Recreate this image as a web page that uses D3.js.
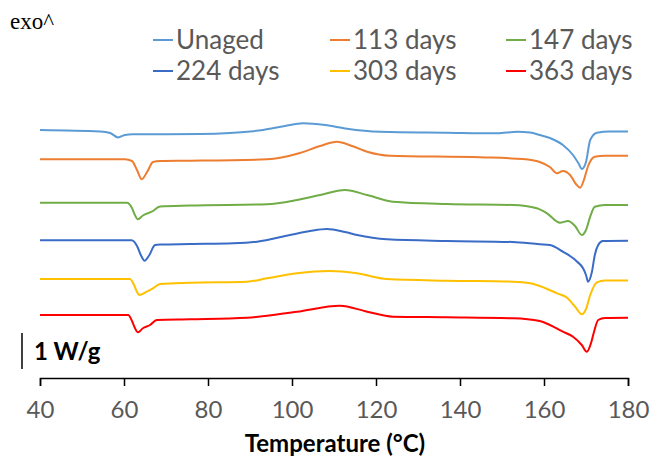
<!DOCTYPE html>
<html>
<head>
<meta charset="utf-8">
<script src="https://cdn.jsdelivr.net/npm/d3@7"></script>
<style>
  body { margin: 0; background: #fff; }
  svg { display: block; }
</style>
</head>
<body>
<svg id="chart" width="651" height="459"></svg>
<script>
// DSC curves, temperature (°C) vs heat flow (W/g, shifted for stacking)
const seriesNames = ["Unaged", "113 days", "147 days", "224 days", "303 days", "363 days"];
const seriesColors = ["#5B9BD5", "#ED7D31", "#70AD47", "#3A6CC6", "#FFC000", "#FF0000"];
const xTicks = [40, 60, 80, 100, 120, 140, 160, 180];

const unaged = [
  [40, 6.889], [54.3, 6.847], [56.7, 6.806], [58.6, 6.681], [60.2, 6.75], [62.1, 6.769],
  [78.1, 6.778], [85.2, 6.806], [93.1, 6.889], [98.3, 7.0], [102.6, 7.075], [107.9, 7.028],
  [113.1, 6.925], [121.0, 6.842], [136.9, 6.814], [148.8, 6.797], [153.6, 6.842], [156.7, 6.819],
  [159.0, 6.75], [161.4, 6.667], [164.5, 6.472], [166.9, 6.194], [168.3, 5.944], [169.0, 5.806],
  [170.0, 6.0], [171.0, 6.611], [172.6, 6.814], [175.7, 6.847], [180, 6.847]
];
const days113 = [
  [40, 6.075], [60.2, 6.075], [61.9, 6.028], [63.1, 5.778], [64.2, 5.519], [65.5, 5.722],
  [66.9, 6.0], [68.6, 6.028], [75.7, 6.036], [94.0, 6.075], [101.9, 6.25], [106.7, 6.444],
  [110.7, 6.564], [114.3, 6.444], [117.9, 6.286], [123.3, 6.175], [144.8, 6.131], [155.0, 6.083],
  [159.0, 6.0], [161.4, 5.861], [163.1, 5.686], [164.5, 5.75], [166.2, 5.639], [167.6, 5.389],
  [168.6, 5.286], [169.5, 5.5], [170.5, 5.889], [172.1, 6.147], [174.5, 6.175], [180, 6.175]
];
const days147 = [
  [40, 4.869], [60.7, 4.869], [61.9, 4.722], [62.6, 4.528], [63.3, 4.408], [64.5, 4.514],
  [66.6, 4.619], [68.6, 4.764], [75.7, 4.792], [94.0, 4.825], [101.2, 4.944], [106.7, 5.083],
  [112.6, 5.222], [117.9, 5.083], [124.0, 4.897], [136.9, 4.833], [152.6, 4.806], [158.3, 4.714],
  [160.7, 4.575], [163.8, 4.314], [165.7, 4.361], [167.4, 4.222], [169.0, 3.972], [170.0, 4.111],
  [171.0, 4.481], [172.1, 4.758], [174.5, 4.806], [180, 4.806]
];
const days224 = [
  [40, 3.825], [61.8, 3.825], [63.1, 3.667], [64.0, 3.417], [64.9, 3.258], [65.9, 3.389],
  [67.4, 3.694], [68.6, 3.708], [75.7, 3.722], [86.0, 3.741], [91.7, 3.786], [99.5, 3.972],
  [104.3, 4.083], [108.3, 4.139], [112.6, 4.056], [115.5, 3.972], [122.6, 3.853], [136.9, 3.806],
  [152.6, 3.778], [159.0, 3.714], [161.4, 3.694], [164.5, 3.508], [167.9, 3.231], [169.3, 3.047],
  [170.0, 2.861], [170.5, 2.675], [171.4, 2.944], [172.1, 3.417], [172.9, 3.694], [174.0, 3.806],
  [180, 3.814]
];
const days303 = [
  [40, 2.75], [61.4, 2.75], [62.4, 2.583], [63.1, 2.389], [63.6, 2.306], [65.4, 2.397],
  [66.9, 2.492], [68.6, 2.611], [75.7, 2.647], [89.3, 2.675], [94.0, 2.769], [101.2, 2.908],
  [109.0, 2.972], [115.5, 2.908], [122.6, 2.75], [136.9, 2.703], [152.6, 2.675], [156.7, 2.631],
  [160.2, 2.5], [163.1, 2.353], [165.5, 2.231], [167.4, 1.981], [169.0, 1.769], [170.0, 1.917],
  [171.0, 2.306], [172.6, 2.658], [174.5, 2.708], [180, 2.708]
];
const days363 = [
  [40, 1.75], [61.0, 1.75], [61.9, 1.583], [62.6, 1.389], [63.3, 1.269], [64.5, 1.381],
  [66.2, 1.472], [67.8, 1.611], [75.7, 1.631], [89.3, 1.675], [101.2, 1.842], [111.4, 2.008],
  [117.9, 1.842], [124.0, 1.703], [136.9, 1.686], [152.6, 1.658], [159.0, 1.583], [161.4, 1.472],
  [164.5, 1.286], [166.9, 1.147], [169.0, 0.917], [170.2, 0.731], [171.2, 0.972], [171.9, 1.278],
  [172.9, 1.611], [174.5, 1.667], [180, 1.675]
];
const allSeries = [unaged, days113, days147, days224, days303, days363];

const sans = "Lato, 'Open Sans', sans-serif";
const svg = d3.select("#chart");

const x = d3.scaleLinear().domain([40, 180]).range([40, 628]);
const y = d3.scaleLinear().domain([0, 7.5]).range([378, 108]);

const line = d3.line()
  .x(d => x(d[0]))
  .y(d => y(d[1]))
  .curve(d3.curveMonotoneX);

// curves
svg.append("g").selectAll("path")
  .data(allSeries)
  .enter()
  .append("path")
  .attr("d", line)
  .attr("fill", "none")
  .attr("stroke", (d, i) => seriesColors[i])
  .attr("stroke-width", 2)
  .attr("stroke-linejoin", "round");

// x axis
const xAxis = svg.append("g")
  .attr("transform", "translate(0,378)")
  .call(d3.axisBottom(x).tickValues(xTicks).tickSize(8).tickPadding(15));
xAxis.select(".domain").attr("stroke", "#000").attr("stroke-width", 1.5);
xAxis.selectAll(".tick line").attr("stroke", "#000").attr("stroke-width", 1.5);
xAxis.selectAll(".tick text")
  .attr("fill", "#595959")
  .style("font-family", sans)
  .style("font-size", "24px");

svg.append("text")
  .attr("x", 335)
  .attr("y", 452)
  .attr("text-anchor", "middle")
  .style("font-family", sans)
  .style("font-size", "24px")
  .style("font-weight", "bold")
  .attr("fill", "#000")
  .text("Temperature (°C)");

// scale bar
svg.append("line")
  .attr("x1", 22).attr("x2", 22)
  .attr("y1", y(1.25)).attr("y2", y(0.25))
  .attr("stroke", "#000")
  .attr("stroke-width", 1.5);
svg.append("text")
  .attr("x", 34)
  .attr("y", 360)
  .style("font-family", sans)
  .style("font-size", "24px")
  .style("font-weight", "bold")
  .attr("fill", "#000")
  .text("1 W/g");

// exo marker
svg.append("text")
  .attr("x", 10)
  .attr("y", 29)
  .style("font-family", "'Liberation Serif', 'Times New Roman', serif")
  .style("font-size", "23px")
  .attr("fill", "#000")
  .text("exo^");

// legend
const legendCols = [153, 330, 506];
const legendRows = [40, 71];
const legend = svg.append("g").selectAll("g")
  .data(seriesNames)
  .enter()
  .append("g")
  .attr("transform", (d, i) => `translate(${legendCols[i % 3]},${legendRows[Math.floor(i / 3)]})`);
legend.append("line")
  .attr("x1", 0).attr("x2", 20)
  .attr("stroke", (d, i) => seriesColors[i])
  .attr("stroke-width", 2);
legend.append("text")
  .attr("x", 23)
  .attr("y", 9)
  .attr("fill", "#595959")
  .style("font-family", sans)
  .style("font-size", "26px")
  .text(d => d);
</script>
</body>
</html>
